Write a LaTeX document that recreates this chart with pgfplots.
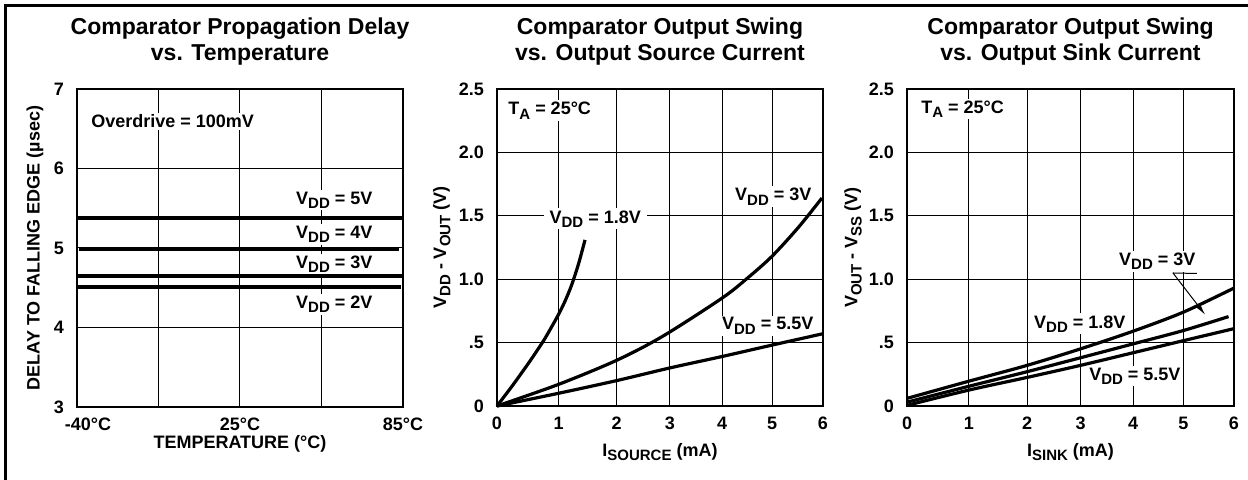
\documentclass[border=0pt]{standalone}
\usepackage{pgfplots}
\pgfplotsset{compat=1.18}
\usepackage{fontspec}
\setmainfont{Liberation Sans}
\usetikzlibrary{arrows.meta}
\newcommand{\sub}[1]{\raisebox{-0.45ex}{\fontsize{7.5pt}{8pt}\selectfont #1}}

\pgfplotsset{
  chart/.style={
    scale only axis, width=163pt, height=158.5pt, anchor=south west,
    axis line style={line width=1pt},
    grid=major, major grid style={black, line width=0.5pt},
    major tick length=0pt,
    tick label style={font=\fontsize{9pt}{10pt}\selectfont\bfseries},
    /pgf/number format/assume math mode=true,
    yticklabel style={xshift=-3pt},
    xticklabel style={yshift=-2pt},
    label style={font=\fontsize{9pt}{10pt}\selectfont\bfseries},
    title style={font=\fontsize{11.5pt}{13pt}\selectfont\bfseries, align=center,
      anchor=south, inner sep=0pt, at={(axis description cs:0.5,1.036)}},
    clip=false,
  },
  curve/.style={black, line width=1.6pt, smooth, no marks},
  hline/.style={black, line width=1.8pt, no marks},
}
\tikzset{
  ann/.style={font=\fontsize{9pt}{10pt}\selectfont\bfseries, anchor=base west,
    fill=white, inner sep=1pt},
}

\begin{document}
\begin{tikzpicture}
\useasboundingbox (0,0) rectangle (624pt,240pt);
\draw[line width=1.5pt] (2.8pt,0) -- (2.8pt,237.3pt) -- (624pt,237.3pt);

% propagation delay vs temperature
\begin{axis}[chart, at={(38.5pt,36.5pt)}, height=159pt,
  xmin=0, xmax=4, ymin=3, ymax=7,
  xtick={0,1,2,3,4},
  xticklabels={\hspace{11pt}-40°C,,25°C\hspace{3pt},,85°C\hspace{4.5pt}},
  ytick={3,4,5,6,7},
  title={Comparator Propagation Delay\\vs. Temperature},
  xlabel={TEMPERATURE (°C)},
  ylabel={DELAY TO FALLING EDGE (µsec)},
  xlabel style={at={(axis description cs:0.5,-0.129)}, anchor=base},
  ylabel style={at={(axis description cs:-0.129,0.5)}, anchor=center},
]
\node[ann] at (axis cs:0.147,6.51) {Overdrive = 100mV};
\node[ann] at (axis cs:2.66,5.553) {V\sub{DD} = 5V};
\node[ann] at (axis cs:2.66,5.12) {V\sub{DD} = 4V};
\node[ann] at (axis cs:2.66,4.745) {V\sub{DD} = 3V};
\node[ann] at (axis cs:2.66,4.24) {V\sub{DD} = 2V};
\addplot[hline] coordinates {(0,5.377)(4,5.377)};
\addplot[hline] coordinates {(0.03,4.99)(3.95,4.99)};
\addplot[hline] coordinates {(0,4.645)(4,4.645)};
\addplot[hline] coordinates {(0,4.51)(3.98,4.51)};
\end{axis}

% output swing vs source current
\begin{axis}[chart, at={(248.5pt,37pt)},
  xmin=0, xmax=6, ymin=0, ymax=2.5,
  xtick={0,1.133,2.204,3.184,4.145,5.063,6}, xticklabels={0,1,2,3,4,5,6},
  ytick={0,0.5,1,1.5,2,2.5}, yticklabels={0,.5,1.0,1.5,2.0,2.5},
  title={Comparator Output Swing\\vs. Output Source Current},
  xlabel={I\sub{SOURCE} (mA)},
  ylabel={V\sub{DD} - V\sub{OUT} (V)},
  xlabel style={at={(axis description cs:0.5,-0.16)}, anchor=base},
  ylabel style={at={(axis description cs:-0.169,0.5)}, anchor=center},
]
\node[ann] at (axis cs:0.166,2.295) {T\sub{A} = 25°C};
\node[ann, inner xsep=3pt] at (axis cs:0.85,1.443) {V\sub{DD} = 1.8V};
\node[ann] at (axis cs:4.34,1.617) {V\sub{DD} = 3V};
\node[ann] at (axis cs:4.10,0.60) {V\sub{DD} = 5.5V};
% VDD = 1.8V
\addplot[curve] coordinates {
  (0,0)(0.3,0.17)(0.6,0.35)(0.85,0.51)(1.0,0.62)(1.13,0.72)(1.25,0.825)(1.37,0.95)(1.5,1.12)(1.62,1.31)
};
% VDD = 3V
\addplot[curve] coordinates {
  (0,0)(1.13,0.17)(2.20,0.36)(3.05,0.55)(4.14,0.85)(4.6,1.005)(5.06,1.18)(5.55,1.41)(5.98,1.64)
};
% VDD = 5.5V
\addplot[curve] coordinates {
  (0,0)(1.13,0.1)(2.2,0.2)(3.18,0.3)(4.14,0.39)(5.06,0.48)(6,0.57)
};
\end{axis}

% output swing vs sink current
\begin{axis}[chart, at={(453.5pt,37pt)}, width=163.5pt,
  xmin=0, xmax=6, ymin=0, ymax=2.5,
  xtick={0,1.133,2.204,3.184,4.151,5.069,6}, xticklabels={0,1,2,3,4,5,6},
  ytick={0,0.5,1,1.5,2,2.5}, yticklabels={0,.5,1.0,1.5,2.0,2.5},
  title={Comparator Output Swing\\vs. Output Sink Current},
  xlabel={I\sub{SINK} (mA)},
  ylabel={V\sub{OUT} - V\sub{SS} (V)},
  xlabel style={at={(axis description cs:0.5,-0.16)}, anchor=base},
  ylabel style={at={(axis description cs:-0.165,0.5)}, anchor=center},
]
\node[ann] at (axis cs:0.22,2.31) {T\sub{A} = 25°C};
\node[ann] at (axis cs:3.85,1.11) {V\sub{DD} = 3V};
\node[ann] at (axis cs:2.29,0.615) {V\sub{DD} = 1.8V};
\node[ann] at (axis cs:3.30,0.205) {V\sub{DD} = 5.5V};
% VDD = 1.8V
\addplot[curve] coordinates {
  (0,0.06)(1.13,0.195)(2.2,0.32)(3.18,0.45)(4.15,0.59)(5.07,0.74)(6,0.93)
};
% VDD = 3V
\addplot[curve] coordinates {
  (0,0.03)(1.13,0.155)(2.2,0.27)(3.18,0.38)(4.15,0.49)(5.07,0.595)(5.9,0.705)
};
% VDD = 5.5V
\addplot[curve] coordinates {
  (0,0.005)(1.13,0.125)(2.2,0.225)(3.18,0.32)(4.15,0.42)(5.07,0.515)(6,0.61)
};
\draw[line width=0.5pt] (axis cs:4.88,1.049) -- (axis cs:5.32,1.045);
\draw[line width=0.5pt, -{Latex[length=6pt,width=3pt]}] (axis cs:4.88,1.049) -- (axis cs:5.47,0.72);
\end{axis}
\end{tikzpicture}
\end{document}
